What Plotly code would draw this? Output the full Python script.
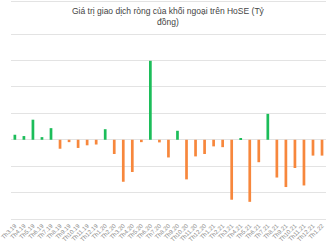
import plotly.graph_objects as go

months = ["Th3.19", "Th4.19", "Th5.19", "Th6.19", "Th7.19", "Th8.19", "Th9.19", "Th10.19",
          "Th11.19", "Th12.19", "Th1.20", "Th2.20", "Th3.20", "Th4.20", "Th5.20", "Th6.20",
          "Th7.20", "Th8.20", "Th9.20", "Th10.20", "Th11.20", "Th12.20", "Th1.21", "Th2.21",
          "Th3.21", "Th4.21", "Th5.21", "Th6.21", "Th7.21", "Th8.21", "Th9.21", "Th10.21",
          "Th11.21", "Th12.21", "Th1.22"]
net_value = [950, 700, 3800, 500, 2200, -1700, -450, -1550,
             -1050, -900, 2000, -2700, -7950, -6100, -450, 14950,
             -500, -3350, 1700, -7500, -3150, -2700, -1250, -1400,
             -11350, 300, -11750, -4250, 4900, -7150, -8950, -5350,
             -8650, -3000, -3000]
title_text = "Giá trị giao dịch ròng của khối ngoại trên HoSE (Tỷ<br>đồng)"

GREEN = "#1cbd5a"
ORANGE = "#f7873c"
GRID = "#e3e3e3"
colors = [GREEN if v >= 0 else ORANGE for v in net_value]

fig = go.Figure(go.Bar(x=months, y=net_value, marker_color=colors, marker_line_width=0, width=0.3))

fig.update_layout(
    width=326, height=245,
    margin=dict(l=0, r=0, t=32, b=26),
    paper_bgcolor="white", plot_bgcolor="white",
    showlegend=False,
    font=dict(family="Liberation Sans, Arial, sans-serif"),
    bargap=0.7,
)
fig.add_annotation(
    text=title_text, xref="paper", yref="paper", x=0.5, xanchor="center",
    y=1 + 28 / 187, yanchor="top", showarrow=False,
    font=dict(size=8.5, color="#444444"), align="center",
)
fig.update_xaxes(
    type="category", range=[-0.428, 34.44],
    tickangle=-45, tickfont=dict(size=6, color="#8a8a8a"),
    showgrid=False, showline=True, linecolor=GRID, linewidth=1, ticks="",
)
fig.update_yaxes(
    range=[-15000, 20400], tickvals=[-10000, -5000, 5000, 10000, 15000, 20000],
    showticklabels=False,
    gridcolor=GRID, gridwidth=1, zeroline=True, zerolinecolor=GRID, zerolinewidth=1,
)
fig.add_shape(type="line", xref="paper", yref="paper", x0=0, x1=1,
              y0=1 + 30.5 / 187, y1=1 + 30.5 / 187, line=dict(color=GRID, width=1))

fig.write_html("out.html")
